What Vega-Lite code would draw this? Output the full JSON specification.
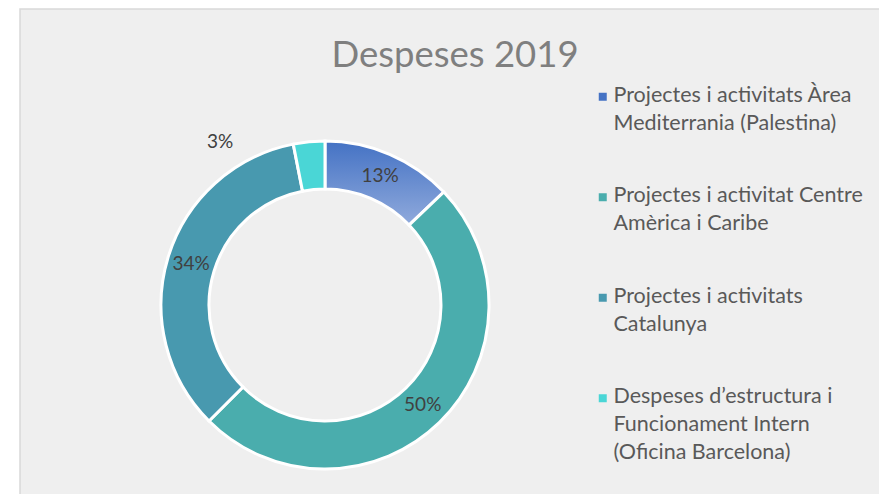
{
  "$schema": "https://vega.github.io/schema/vega-lite/v6.json",
  "autosize": "none",
  "width": 870,
  "height": 495,
  "padding": {"left": 20, "top": 9, "right": 0, "bottom": 0},
  "background": "white",
  "view": {"fill": "#EFEFEF", "stroke": "#D9D9D9", "strokeWidth": 1.5},
  "config": {
    "font": "Lato"
  },
  "title": {
    "text": "Despeses 2019",
    "font": "Lato",
    "fontSize": 36.5,
    "fontWeight": "normal",
    "color": "#7F7F7F",
    "anchor": "middle",
    "frame": "group",
    "baseline": "alphabetic",
    "offset": -59,
    "dy": 35
  },
  "data": {
    "values": [
      {"cat": "Projectes i activitats Àrea\nMediterrania (Palestina)", "value": 12.9, "label": "13%", "order": 1},
      {"cat": "Projectes i activitat Centre\nAmèrica i Caribe", "value": 49.6, "label": "50%", "order": 2},
      {"cat": "Projectes i activitats\nCatalunya", "value": 34.4, "label": "34%", "order": 3},
      {"cat": "Despeses d’estructura i\nFuncionament Intern\n(Oficina Barcelona)", "value": 3.1, "label": "3%", "order": 4}
    ]
  },
  "encoding": {
    "theta": {"field": "value", "type": "quantitative", "stack": true},
    "order": {"field": "order", "type": "quantitative"}
  },
  "layer": [
    {
      "mark": {"type": "arc", "x": 305, "y": 296, "outerRadius": 164, "innerRadius": 116, "stroke": "white", "strokeWidth": 3},
      "encoding": {
        "color": {
          "field": "cat",
          "type": "nominal",
          "condition": {
            "test": "datum.order == 1",
            "value": {"gradient": "linear", "x1": 0, "y1": 0, "x2": 0, "y2": 1,
              "stops": [{"offset": 0, "color": "#4472C4"}, {"offset": 1, "color": "#90AADC"}]}
          },
          "scale": {
            "domain": [
              "Projectes i activitats Àrea\nMediterrania (Palestina)",
              "Projectes i activitat Centre\nAmèrica i Caribe",
              "Projectes i activitats\nCatalunya",
              "Despeses d’estructura i\nFuncionament Intern\n(Oficina Barcelona)"
            ],
            "range": ["#4472C4", "#4AADAD", "#4899AF", "#4AD6D6"]
          },
          "legend": {
            "title": null,
            "orient": "none",
            "legendX": 572,
            "legendY": 77,
            "padding": 0,
            "symbolType": "square",
            "symbolSize": 64,
            "symbolStrokeWidth": 0,
            "labelFont": "Lato",
            "labelFontSize": 21.5,
            "labelColor": "#595959",
            "labelOffset": 0,
            "labelLimit": 0,
            "labelBaseline": "top",
            "rowPadding": 49.5,
            "labelExpr": "split(datum.label, '\\n')",
            "encoding": {
              "labels": {"lineHeight": {"value": 28}, "dy": {"value": -12}}
            }
          }
        }
      }
    },
    {
      "mark": {"type": "text", "x": 305, "y": 296, "radius": 140, "font": "Lato", "fontSize": 19, "color": "#404040"},
      "encoding": {
        "text": {"field": "label"},
        "opacity": {"condition": {"test": "datum.order == 4", "value": 0}, "value": 1}
      }
    },
    {
      "mark": {"type": "text", "x": 305, "y": 296, "radius": 164, "dx": -89, "font": "Lato", "fontSize": 19, "color": "#404040"},
      "encoding": {
        "text": {"field": "label"},
        "opacity": {"condition": {"test": "datum.order == 4", "value": 1}, "value": 0}
      }
    }
  ]
}
